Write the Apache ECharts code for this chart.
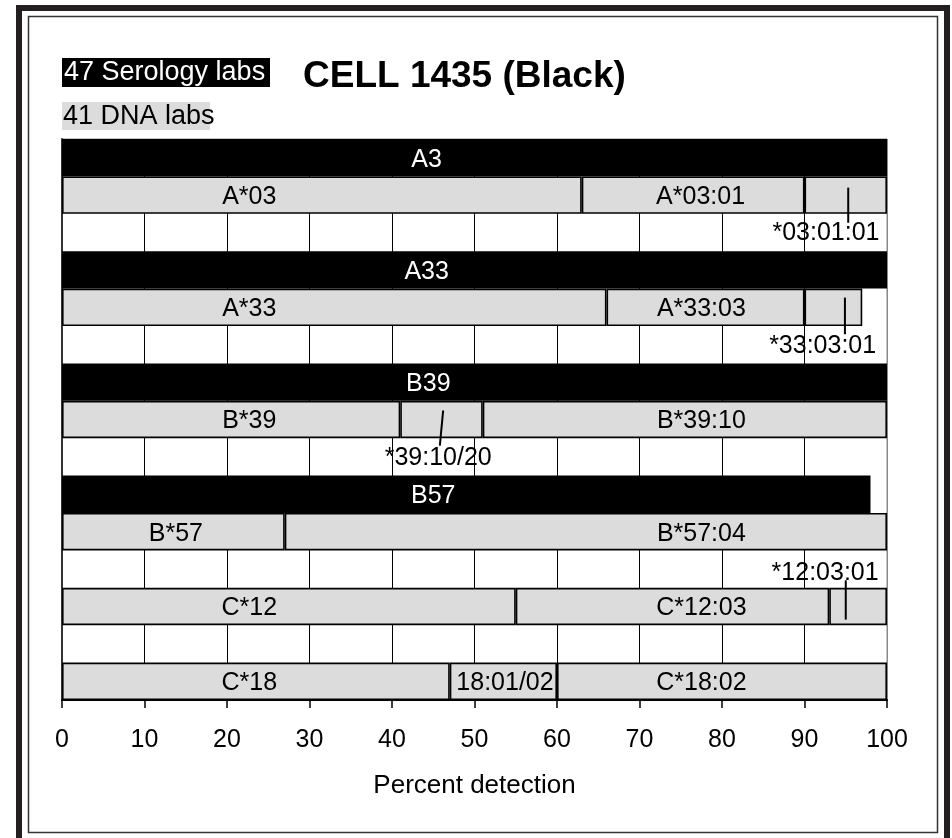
<!DOCTYPE html>
<html>
<head>
<meta charset="utf-8">
<script src="https://cdn.jsdelivr.net/npm/echarts@6/dist/echarts.min.js"></script>
<style>
html,body{margin:0;padding:0;background:#fff;}
#chart{width:952px;height:838px;}
</style>
</head>
<body>
<div id="chart"></div>
<script>
// Rows from top to bottom (gap rows are empty spacer rows)
const rowNames = ['A3', 'A*03', 'gap1', 'A33', 'A*33', 'gap2', 'B39', 'B*39', 'gap3', 'B57', 'B*57', 'gap4', 'C*12', 'gap5', 'C*18'];
// Serology rows (drawn black)
const serologyRows = ['A3', 'A33', 'B39', 'B57'];
// Segment widths (percent) for each row
const seg1 = [100, 63, '-', 100, 66, '-', 100, 41, '-', 98, 27, '-', 55, '-', 47];
const seg2 = ['-', 27, '-', '-', 24, '-', '-', 10, '-', '-', 73, '-', 38, '-', 13];
const seg3 = ['-', 10, '-', '-', 7, '-', '-', 49, '-', '-', '-', '-', 7, '-', 40];
// Segment labels: [x position (percent), row, text]
const segLabels = [
  [44.2, 'A3', 'A3'],
  [22.7, 'A*03', 'A*03'], [77.4, 'A*03', 'A*03:01'],
  [44.2, 'A33', 'A33'],
  [22.7, 'A*33', 'A*33'], [77.5, 'A*33', 'A*33:03'],
  [44.4, 'B39', 'B39'],
  [22.7, 'B*39', 'B*39'], [77.5, 'B*39', 'B*39:10'],
  [45.0, 'B57', 'B57'],
  [13.8, 'B*57', 'B*57'], [77.5, 'B*57', 'B*57:04'],
  [22.7, 'C*12', 'C*12'], [77.5, 'C*12', 'C*12:03'],
  [22.7, 'C*18', 'C*18'], [53.7, 'C*18', '18:01/02'], [77.5, 'C*18', 'C*18:02']
];
// Sub-allele annotations: [x position (percent), row, text]
const subLabels = [
  [92.6, 'gap1', '*03:01:01'],
  [92.2, 'gap2', '*33:03:01'],
  [45.6, 'gap3', '*39:10/20'],
  [92.5, 'gap4', '*12:03:01']
];
// Pointer ticks: [x top, x bottom, row, top offset (rows), bottom offset (rows)]
const pointerTicks = [
  [95.3, 95.3, 'A*03', -0.20, 0.74],
  [94.9, 94.9, 'A*33', -0.26, 0.72],
  [46.2, 45.8, 'B*39', -0.24, 0.70],
  [95.0, 95.0, 'C*12', -0.70, 0.35]
];
const xTicks = [0, 10, 20, 30, 40, 50, 60, 70, 80, 90, 100];

const FONT = '"Liberation Sans", Arial, sans-serif';
const GRAY = '#dcdcdc';

function mkSeg(arr) {
  return arr.map((v, i) => {
    if (v === '-') return '-';
    if (serologyRows.includes(rowNames[i])) {
      return { value: v, itemStyle: { color: '#000', borderWidth: 0 } };
    }
    return v;
  });
}
const barBase = {
  type: 'bar', stack: 'total', barCategoryGap: '0%',
  itemStyle: { color: GRAY, borderColor: '#000', borderWidth: 1.6 },
  emphasis: { disabled: true }, silent: true, z: 2
};

const labelData = segLabels.map(d => ({
  value: d,
  label: { color: serologyRows.includes(d[1]) ? '#ffffff' : '#000000' }
}));
const subLabelData = subLabels.map(d => ({
  value: d,
  label: { position: d[1] === 'gap4' ? [0.5, 4.5] : [0.5, 1.5] }
}));

const chart = echarts.init(document.getElementById('chart'), null, { renderer: 'canvas' });
chart.setOption({
  animation: false,
  backgroundColor: '#fff',
  title: {
    text: 'CELL 1435 (Black)', left: 298, top: 53,
    textStyle: { fontFamily: FONT, fontSize: 37, fontWeight: 'bold', color: '#000' }
  },
  grid: { left: 62, right: 65, top: 139, bottom: 138, show: true, borderColor: '#888', borderWidth: 1, backgroundColor: 'transparent' },
  xAxis: {
    type: 'value', min: 0, max: 100, interval: 10,
    axisLine: { show: true, lineStyle: { color: '#000', width: 2 } },
    axisTick: { show: true, length: 8, lineStyle: { color: '#000', width: 1.5 } },
    axisLabel: { fontFamily: FONT, fontSize: 25, color: '#000', margin: 28,
      formatter: v => xTicks.includes(v) ? String(v) : '' },
    splitLine: { show: true, lineStyle: { color: ['#333', '#000', '#000', '#000', '#000', '#000', '#000', '#000', '#000', '#000', '#888'], width: 1 } },
    name: 'Percent detection', nameLocation: 'middle', nameGap: 73,
    nameTextStyle: { fontFamily: FONT, fontSize: 26, color: '#000' }
  },
  yAxis: {
    type: 'category', data: rowNames, inverse: true,
    axisLine: { show: true, lineStyle: { color: '#333', width: 2 } },
    axisTick: { show: false }, axisLabel: { show: false }, splitLine: { show: false }
  },
  series: [
    Object.assign({}, barBase, { name: 'seg1', data: mkSeg(seg1) }),
    Object.assign({}, barBase, { name: 'seg2', data: mkSeg(seg2) }),
    Object.assign({}, barBase, { name: 'seg3', data: mkSeg(seg3) }),
    {
      type: 'scatter', symbolSize: 1, itemStyle: { color: 'rgba(0,0,0,0)' }, z: 5, silent: true,
      data: labelData,
      encode: { x: 0, y: 1 },
      label: {
        show: true, position: [0.5, 2.5], align: 'center', verticalAlign: 'middle',
        fontFamily: FONT, fontSize: 25,
        textBorderWidth: 0, textShadowBlur: 0, opacity: 1,
        formatter: p => p.value[2]
      },
      labelLayout: { hideOverlap: false }
    },
    {
      type: 'scatter', symbolSize: 1, itemStyle: { color: 'rgba(0,0,0,0)' }, z: 5, silent: true,
      data: subLabelData,
      encode: { x: 0, y: 1 },
      label: {
        show: true, align: 'center', verticalAlign: 'middle',
        fontFamily: FONT, fontSize: 25, color: '#000000',
        textBorderWidth: 0, textShadowBlur: 0, opacity: 1,
        formatter: p => p.value[2]
      },
      labelLayout: { hideOverlap: false }
    },
    {
      type: 'custom', z: 6, silent: true,
      data: pointerTicks,
      encode: { x: [0, 1], y: 2 },
      renderItem: function (params, api) {
        const row = api.value(2);
        const p1 = api.coord([api.value(0), row]);
        const p2 = api.coord([api.value(1), row]);
        const h = api.size([0, 1])[1];
        return {
          type: 'line',
          shape: { x1: p1[0], y1: p1[1] + api.value(3) * h, x2: p2[0], y2: p2[1] + api.value(4) * h },
          style: { stroke: '#000', lineWidth: 2 }
        };
      }
    }
  ],
  graphic: [
    { type: 'rect', shape: { x: 19, y: 8, width: 928, height: 836 }, style: { fill: 'none', stroke: '#231f20', lineWidth: 6 }, silent: true },
    { type: 'rect', shape: { x: 28.5, y: 16.5, width: 909, height: 816 }, style: { fill: 'none', stroke: '#333', lineWidth: 1.5 }, silent: true },
    { type: 'rect', shape: { x: 62, y: 58, width: 208, height: 29 }, style: { fill: '#000' }, silent: true },
    { type: 'text', x: 64, y: 73, style: { text: '47 Serology labs', fill: '#fff', font: '27px ' + FONT, verticalAlign: 'middle' }, silent: true },
    { type: 'rect', shape: { x: 62, y: 102, width: 148, height: 28 }, style: { fill: GRAY }, silent: true },
    { type: 'text', x: 63, y: 117, style: { text: '41 DNA labs', fill: '#000', font: '27px ' + FONT, verticalAlign: 'middle' }, silent: true }
  ]
});
</script>
</body>
</html>
